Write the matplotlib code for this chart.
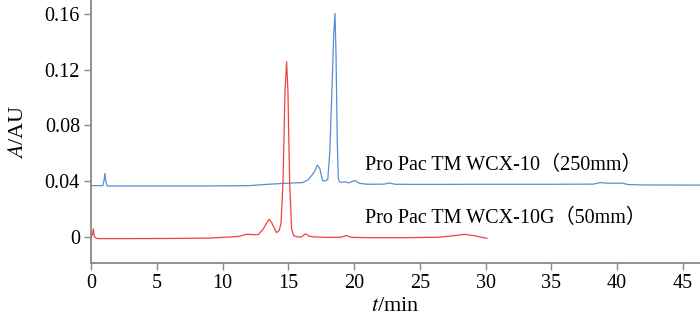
import matplotlib
matplotlib.use('Agg')
import matplotlib.pyplot as plt

plt.rcParams['mathtext.fontset'] = 'stix'

# ProPac WCX-10 (250 mm) trace
t_long = [0, 0.9, 1.0, 1.06, 1.12, 1.25, 3, 6, 9, 12, 13.5, 15, 16.1, 16.5, 16.8,
          17.0, 17.2, 17.4, 17.6, 17.8, 18.0, 18.15, 18.3, 18.45, 18.55, 18.63,
          18.72, 18.8, 18.9, 19.1, 19.3, 19.6, 19.9, 20.1, 20.4, 21, 22.3, 22.7,
          23.1, 25, 30, 35, 38.2, 38.7, 39.2, 40.0, 40.4, 40.8, 42, 46.3]
a_long = [0.0368, 0.0368, 0.041, 0.0457, 0.040, 0.0365, 0.0366, 0.0366, 0.0366,
          0.0368, 0.0378, 0.0386, 0.039, 0.041, 0.0444, 0.047, 0.0516, 0.049,
          0.0404, 0.0402, 0.0412, 0.06, 0.10, 0.145, 0.1604, 0.13, 0.07, 0.042,
          0.0395, 0.0392, 0.0396, 0.0388, 0.040, 0.0404, 0.0385, 0.0378, 0.0379,
          0.0387, 0.0378, 0.0377, 0.0378, 0.0378, 0.0379, 0.039, 0.0386, 0.0385,
          0.0387, 0.0376, 0.0373, 0.0372]

# ProPac WCX-10G (50 mm) trace
t_short = [0, 0.12, 0.18, 0.25, 0.4, 0.6, 3, 6, 9, 10.6, 11.3, 11.8, 12.3, 12.7,
           13.1, 13.35, 13.55, 13.75, 14.1, 14.3, 14.45, 14.6, 14.75, 14.87, 14.97,
           15.1, 15.25, 15.4, 15.7, 16.0, 16.3, 16.6, 17, 18, 19, 19.4, 19.8, 21,
           24, 26.4, 27.5, 28.4, 29.2, 30.1]
a_short = [-0.0005, 0.002, 0.0057, 0.0005, -0.001, -0.0012, -0.0012, -0.0011,
           -0.0008, 0.0, 0.0005, 0.0019, 0.0017, 0.0016, 0.0057, 0.010, 0.0127,
           0.010, 0.0031, 0.0045, 0.010, 0.04, 0.105, 0.1257, 0.105, 0.04, 0.006,
           0.001, 0.0, 0.0, 0.0022, 0.0005, 0.0, -0.0003, -0.0002, 0.001, -0.0003,
           -0.0005, -0.0005, -0.0002, 0.0008, 0.0019, 0.0008, -0.001]

label_long = 'Pro Pac TM WCX-10\uff08250mm\uff09'
label_short = 'Pro Pac TM WCX-10G\uff0850mm\uff09'
x_ticks = [0, 5, 10, 15, 20, 25, 30, 35, 40, 45]
y_ticks = [0, 0.04, 0.08, 0.12, 0.16]
y_labels = ['0', '0.04', '0.08', '0.12', '0.16']

FONT = ['Liberation Serif', 'Noto Sans CJK SC']
BLUE = '#5a8dd4'
RED = '#ee4242'
SPINE = '#888888'

fig = plt.figure(figsize=(7, 3.19), dpi=100)
ax = fig.add_axes([0.13, 0.1755, 0.87, 0.8245])

ax.plot(t_long, a_long, color=BLUE, lw=0.9)
ax.plot(t_short, a_short, color=RED, lw=0.9)

ax.set_xlim(0, 46.3)
ax.set_ylim(-0.0187, 0.170)
ax.set_xticks(x_ticks)
ax.set_xticklabels([str(v) for v in x_ticks], family=FONT, fontsize=14.5)
ax.set_yticks(y_ticks)
ax.set_yticklabels(y_labels, family=FONT, fontsize=14.5)

for side in ['top', 'right']:
    ax.spines[side].set_visible(False)
for side in ['left', 'bottom']:
    ax.spines[side].set_color(SPINE)
    ax.spines[side].set_linewidth(1.3)
ax.tick_params(direction='out', length=5, width=1, color=SPINE, pad=3)

ax.set_xlabel('$t$/min', family=FONT, fontsize=16, labelpad=3)
ax.set_ylabel('$A$/AU', family=FONT, fontsize=16, labelpad=12)

ax.text(20.8, 0.0516, label_long, family=FONT, fontsize=14.5, va='center')
ax.text(20.8, 0.0136, label_short, family=FONT, fontsize=14.5, va='center')

fig.savefig('out.png', dpi=100)
